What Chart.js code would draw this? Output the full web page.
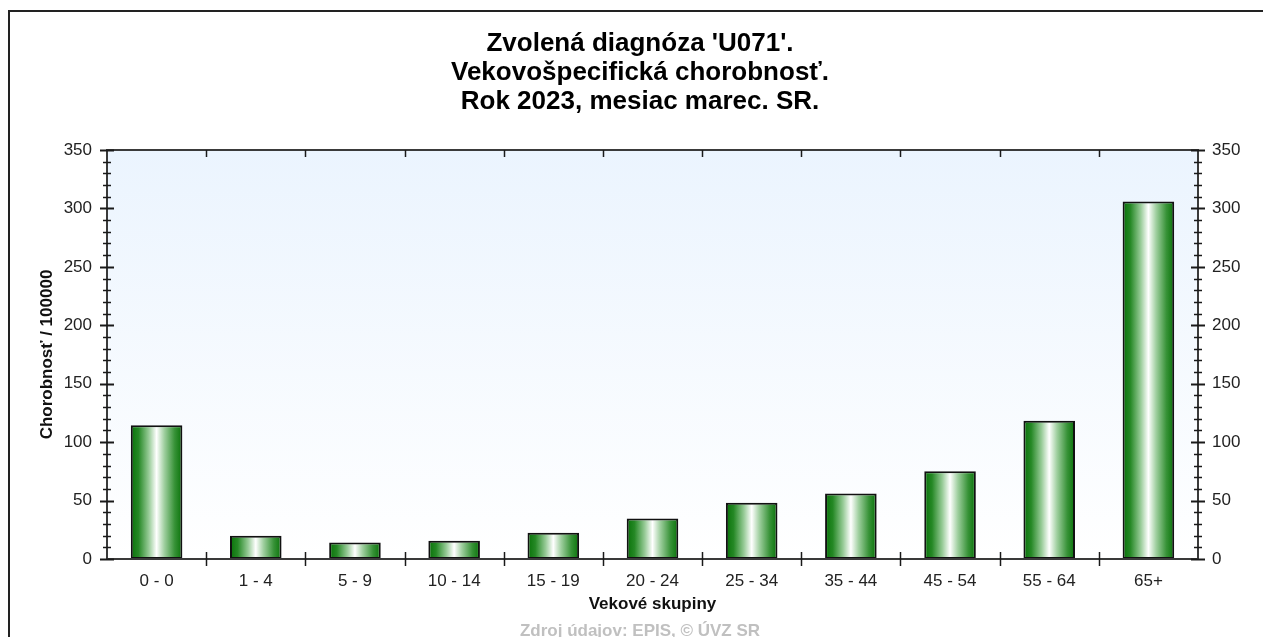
<!DOCTYPE html>
<html>
<head>
<meta charset="utf-8">
<script src="https://cdn.jsdelivr.net/npm/chart.js@4.4.1/dist/chart.umd.min.js"></script>
<style>
  html, body { margin: 0; padding: 0; background: #fff; }
  #wrap { position: relative; width: 1263px; height: 637px; }
</style>
</head>
<body>
<div id="wrap"><canvas id="chart"></canvas></div>
<script>
// data
const ageGroups = ['0 - 0', '1 - 4', '5 - 9', '10 - 14', '15 - 19', '20 - 24', '25 - 34', '35 - 44', '45 - 54', '55 - 64', '65+'];
const incidence = [114.4, 19.9, 14.2, 15.6, 22.5, 34.7, 48.1, 56.1, 75.1, 118.4, 305.9];

const titleLines = ["Zvolená diagnóza 'U071'.", 'Vekovošpecifická chorobnosť.', 'Rok 2023, mesiac marec. SR.'];
const yAxisTitle = 'Chorobnosť / 100000';
const xAxisTitle = 'Vekové skupiny';
const sourceNote = 'Zdroj údajov: EPIS, © ÚVZ SR';

const yMin = 0;
const yMax = 350;
const yMajorStep = 50;
const yMinorStep = 10;

const FONT = "'Liberation Sans', Arial, sans-serif";
const BAR_PCT = 0.52;

// horizontal "cylinder" gradient for each bar
function barFill(context) {
  const chart = context.chart;
  const x = chart.scales.x;
  if (!x || context.dataIndex === undefined) return '#1a7f1a';
  const c = x.getPixelForValue(context.dataIndex);
  const half = (x.width / ageGroups.length) * BAR_PCT / 2;
  if (!Number.isFinite(c) || !Number.isFinite(half) || half <= 0) return '#1a7f1a';
  const g = chart.ctx.createLinearGradient(c - half, 0, c + half, 0);
  g.addColorStop(0, '#087208');
  g.addColorStop(0.15, '#258825');
  g.addColorStop(0.35, '#97cb97');
  g.addColorStop(0.5, '#ffffff');
  g.addColorStop(0.65, '#9fcf9f');
  g.addColorStop(0.85, '#379237');
  g.addColorStop(1, '#087208');
  return g;
}

const plotDecor = {
  id: 'plotDecor',
  beforeDraw(chart) {
    const { ctx, chartArea: a } = chart;
    ctx.save();
    const g = ctx.createLinearGradient(0, a.top, 0, a.bottom);
    g.addColorStop(0, '#ebf4fe');
    g.addColorStop(1, '#ffffff');
    ctx.fillStyle = g;
    ctx.fillRect(a.left, a.top, a.right - a.left, a.bottom - a.top);
    ctx.restore();
  },
  afterDraw(chart) {
    const { ctx, chartArea: a, scales } = chart;
    const x = scales.x, y = scales.y;
    const line = (x1, y1, x2, y2) => {
      ctx.beginPath();
      ctx.moveTo(x1, y1);
      ctx.lineTo(x2, y2);
      ctx.stroke();
    };
    ctx.save();
    // plot frame
    ctx.strokeStyle = '#3a3a3a';
    ctx.lineWidth = 2;
    ctx.strokeRect(a.left, a.top, a.right - a.left, a.bottom - a.top);

    // y ticks on both sides, crossing the axis
    ctx.strokeStyle = '#1a1a1a';
    for (let v = yMin; v <= yMax; v += yMinorStep) {
      const py = Math.round(y.getPixelForValue(v)) + 0.5;
      const major = v % yMajorStep === 0;
      const len = major ? 7 : 4;
      ctx.lineWidth = major ? 2 : 1.5;
      line(a.left - len, py, a.left + len, py);
      line(a.right - len, py, a.right + len, py);
    }
    // category boundary ticks
    ctx.lineWidth = 1.5;
    for (let i = 1; i < ageGroups.length; i++) {
      const px = Math.round((x.getPixelForValue(i - 1) + x.getPixelForValue(i)) / 2) + 0.5;
      line(px, a.bottom - 7, px, a.bottom + 7);
      line(px, a.top, px, a.top + 7);
    }

    // outer frame (left + top)
    ctx.fillStyle = '#222';
    ctx.fillRect(8, 10, chart.width, 2);
    ctx.fillRect(8, 10, 2, chart.height);
    ctx.restore();
  }
};

new Chart(document.getElementById('chart'), {
  type: 'bar',
  data: {
    labels: ageGroups,
    datasets: [{
      data: incidence,
      yAxisID: 'y',
      backgroundColor: barFill,
      borderColor: '#111',
      borderWidth: 2,
      borderSkipped: false,
      barPercentage: BAR_PCT,
      categoryPercentage: 1
    }]
  },
  plugins: [plotDecor],
  options: {
    responsive: true,
    maintainAspectRatio: false,
    animation: false,
    devicePixelRatio: 1,
    layout: { padding: { left: 17, right: 0, top: 0, bottom: 0 } },
    plugins: {
      legend: { display: false },
      tooltip: { enabled: false },
      title: {
        display: true,
        text: titleLines,
        color: '#000',
        font: { family: FONT, size: 26, weight: 'bold', lineHeight: '29px' },
        padding: { top: 29, bottom: 34 }
      },
      subtitle: {
        display: true,
        position: 'bottom',
        text: sourceNote,
        color: '#c0c0c0',
        font: { family: FONT, size: 17, weight: 'bold', lineHeight: '12px' },
        padding: 0
      }
    },
    scales: {
      x: {
        offset: true,
        grid: { display: false, drawTicks: false },
        border: { display: false },
        ticks: { color: '#222', padding: 12, font: { family: FONT, size: 17 } },
        title: {
          display: true,
          text: xAxisTitle,
          color: '#111',
          font: { family: FONT, size: 17, weight: 'bold', lineHeight: '20px' },
          padding: { top: 0, bottom: 11 }
        },
        afterFit(s) { s.height = 66; }
      },
      y: {
        position: 'left',
        min: yMin,
        max: yMax,
        grid: { display: false, drawTicks: false },
        border: { display: false },
        ticks: { stepSize: yMajorStep, color: '#222', padding: 15, font: { family: FONT, size: 17 } },
        title: {
          display: true,
          text: yAxisTitle,
          color: '#111',
          font: { family: FONT, size: 17, weight: 'bold', lineHeight: '20px' },
          padding: { top: 20, bottom: 0 }
        },
        afterFit(s) { s.width = 90; }
      },
      y2: {
        position: 'right',
        display: true,
        min: yMin,
        max: yMax,
        grid: { display: false, drawTicks: false },
        border: { display: false },
        ticks: { stepSize: yMajorStep, color: '#222', padding: 14, font: { family: FONT, size: 17 } },
        afterFit(s) { s.width = 65; }
      }
    }
  }
});
</script>
</body>
</html>
